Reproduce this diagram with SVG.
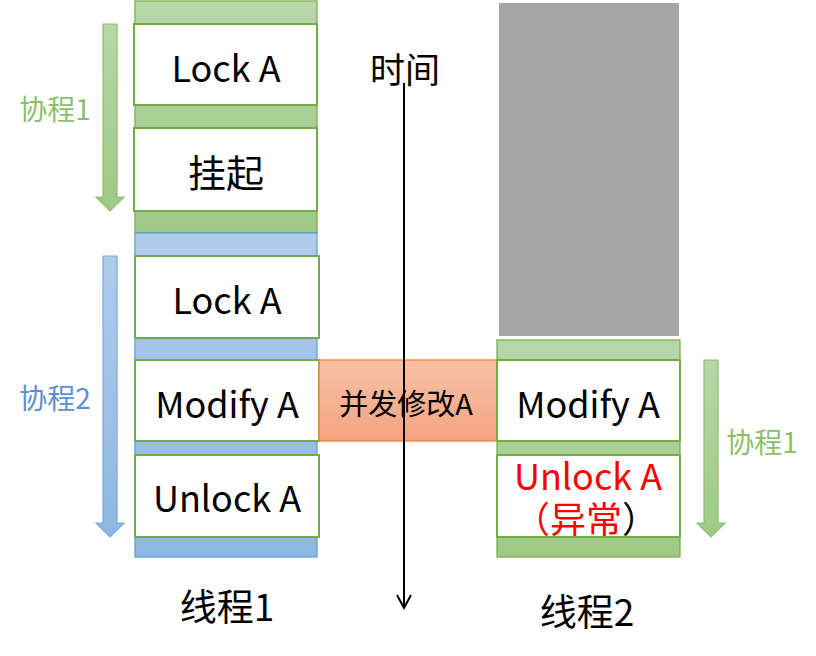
<svg xmlns="http://www.w3.org/2000/svg" width="816" height="656" viewBox="0 0 816 656">
<defs>
<linearGradient id="gG" x1="0" y1="0" x2="0" y2="1"><stop offset="0" stop-color="#b7d7a8"/><stop offset="1" stop-color="#9dc985"/></linearGradient>
<linearGradient id="gB" x1="0" y1="0" x2="0" y2="1"><stop offset="0" stop-color="#b0cceb"/><stop offset="1" stop-color="#8eb7e3"/></linearGradient>
<linearGradient id="gO" x1="0" y1="0" x2="0" y2="1"><stop offset="0" stop-color="#f8c1a8"/><stop offset="1" stop-color="#f4a380"/></linearGradient>
<clipPath id="clipU"><rect x="497" y="455" width="183" height="82"/></clipPath>
</defs>
<style>
text{font-family:"Noto Sans CJK SC","Noto Sans",sans-serif;text-anchor:middle;dominant-baseline:central}
.box{fill:#fff;stroke:#70ad47;stroke-width:2}
.gcol{fill:url(#gG);stroke:#70ad47;stroke-width:1.2}
.bcol{fill:url(#gB);stroke:#5b9bd5;stroke-width:1.2}
.t{font-size:36px;fill:#000}
.lg{font-size:28px;fill:#8cbf6c}
.lb{font-size:28px;fill:#5b8fd6}
</style>
<g id="thread1">
<rect class="gcol" x="135" y="1" width="182" height="232"/>
<rect class="bcol" x="135" y="233" width="182" height="324"/>
</g>
<g id="lockA1"><rect class="box" x="134" y="24" width="183" height="81"/><text class="t" x="226" y="66">Lock A</text></g>
<g id="suspend"><rect class="box" x="134" y="128" width="183" height="83"/><text class="t" x="226" y="170" style="font-size:38px">挂起</text></g>
<g id="lockA2"><rect class="box" x="135" y="256" width="184" height="82"/><text class="t" x="227" y="298">Lock A</text></g>
<g id="modifyA1"><rect class="box" x="135" y="360" width="184" height="81"/><text class="t" x="227" y="402">Modify A</text></g>
<g id="unlockA1"><rect class="box" x="135" y="455" width="184" height="82"/><text class="t" x="227" y="496">Unlock A</text></g>
<g id="concurrent"><rect x="319" y="360" width="178" height="81" fill="url(#gO)" stroke="#ed7d31" stroke-width="1.2"/><text x="406" y="402" font-size="29" fill="#000">并发修改A</text></g>
<g id="thread2">
<rect x="499" y="3" width="180" height="333" fill="#a5a5a5"/>
<rect class="gcol" x="497" y="340" width="183" height="217"/>
</g>
<g id="modifyA2"><rect class="box" x="497" y="360" width="183" height="81"/><text class="t" x="588" y="402">Modify A</text></g>
<g id="unlockA2"><rect class="box" x="497" y="455" width="183" height="82"/><g clip-path="url(#clipU)"><text class="t" x="588" y="474" style="fill:#ff0000">Unlock A</text><text class="t" x="586" y="517"><tspan style="fill:#ff0000">（异常</tspan>）</text></g></g>
<g id="co1"><path d="M103,24 H117 V197 H124 L110,211 L96,197 H103 Z" fill="url(#gG)" stroke="#8cbf6c" stroke-width="1.2"/><text class="lg" x="55" y="108">协程1</text></g>
<g id="co2"><path d="M103,256 H117 V523 H124 L110,537 L96,523 H103 Z" fill="url(#gB)" stroke="#7aa8dc" stroke-width="1.2"/><text class="lb" x="55" y="397">协程2</text></g>
<g id="co1b"><path d="M704,360 H718 V523 H725 L711,537 L697,523 H704 Z" fill="url(#gG)" stroke="#8cbf6c" stroke-width="1.2"/><text class="lg" x="762" y="441">协程1</text></g>
<g id="connectors">
<line x1="404" y1="83" x2="404" y2="608" stroke="#000" stroke-width="2"/>
<polyline points="397,595 404,608 411,595" fill="none" stroke="#000" stroke-width="2"/>
</g>
<g id="labels">
<text x="405" y="67" font-size="35" fill="#000">时间</text>
<text x="227" y="605" font-size="37" fill="#000">线程1</text>
<text x="587" y="610" font-size="37" fill="#000">线程2</text>
</g>
</svg>
